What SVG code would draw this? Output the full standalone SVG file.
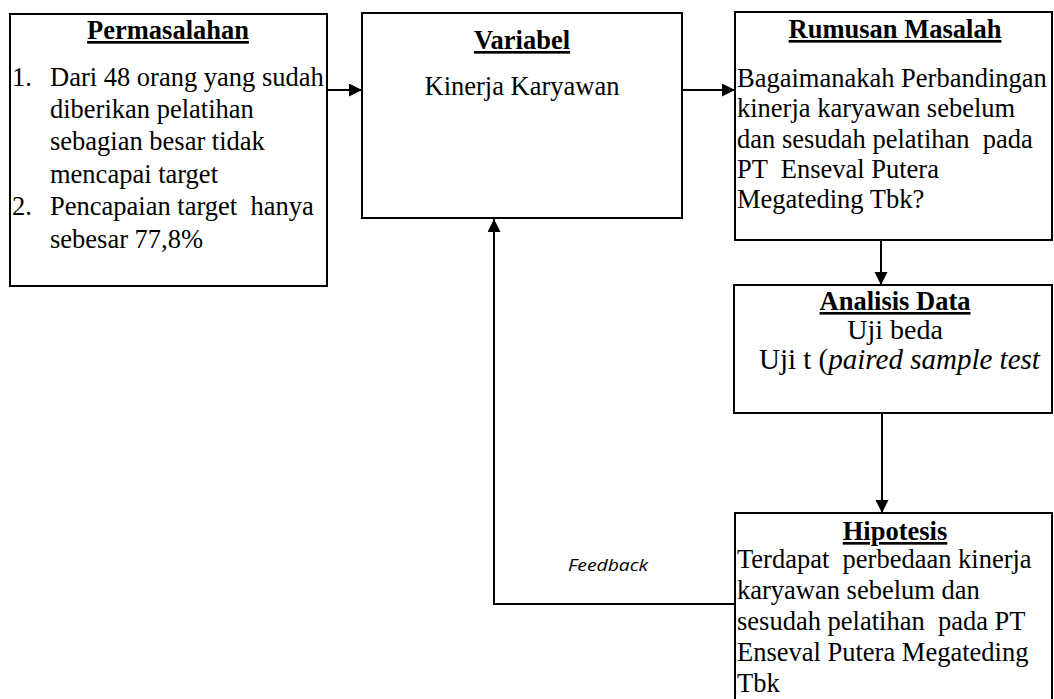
<svg xmlns="http://www.w3.org/2000/svg" width="1054" height="699" viewBox="0 0 1054 699">
<defs>
<marker id="arr" markerUnits="userSpaceOnUse" markerWidth="14" markerHeight="14" refX="13" refY="6.5" orient="auto">
<path d="M0,0 L13,6.5 L0,13 Z" fill="#000"/>
</marker>
<style>
.box{fill:#fff;stroke:#000;stroke-width:2}
.t{font-family:"Liberation Serif","Times New Roman",serif;font-size:26.5px;fill:#000;white-space:pre}
.h{font-weight:bold;text-decoration:underline;text-anchor:middle}
.c{text-anchor:middle}
.con{fill:none;stroke:#000;stroke-width:2}
.fb{font-family:"Open Sans","Liberation Sans",sans-serif;font-style:italic;font-size:17px;fill:#000}
</style>
</defs>
<rect width="1054" height="699" fill="#fff"/>
<g id="connectors">
<line class="con" x1="327" y1="90" x2="362" y2="90" marker-end="url(#arr)"/>
<line class="con" x1="682" y1="90" x2="735" y2="90" marker-end="url(#arr)"/>
<line class="con" x1="881" y1="240" x2="881" y2="285" marker-end="url(#arr)"/>
<line class="con" x1="882" y1="413" x2="882" y2="513" marker-end="url(#arr)"/>
<polyline class="con" points="735,604 494,604 494,219" marker-end="url(#arr)"/>
<text class="fb" x="568" y="571" textLength="80" lengthAdjust="spacingAndGlyphs">Feedback</text>
</g>
<g id="permasalahan">
<rect class="box" x="10" y="14" width="317" height="272"/>
<text class="t h" x="168" y="39">Permasalahan</text>
<text class="t" x="12" y="86">1.</text>
<text class="t" x="50" y="86">Dari 48 orang yang sudah</text>
<text class="t" x="50" y="118">diberikan pelatihan</text>
<text class="t" x="50" y="150">sebagian besar tidak</text>
<text class="t" x="50" y="183">mencapai target</text>
<text class="t" x="12" y="215">2.</text>
<text class="t" x="50" y="215">Pencapaian target  hanya</text>
<text class="t" x="50" y="248">sebesar 77,8%</text>
</g>
<g id="variabel">
<rect class="box" x="362" y="13" width="320" height="205"/>
<text class="t h" x="522" y="49">Variabel</text>
<text class="t c" x="522" y="95">Kinerja Karyawan</text>
</g>
<g id="rumusan">
<rect class="box" x="735" y="12" width="317" height="228"/>
<text class="t h" x="895" y="38">Rumusan Masalah</text>
<text class="t" x="737" y="87">Bagaimanakah Perbandingan</text>
<text class="t" x="737" y="117">kinerja karyawan sebelum</text>
<text class="t" x="737" y="148">dan sesudah pelatihan  pada</text>
<text class="t" x="737" y="178">PT  Enseval Putera</text>
<text class="t" x="737" y="208">Megateding Tbk?</text>
</g>
<g id="analisis">
<rect class="box" x="734" y="285" width="318" height="128"/>
<text class="t h" x="895" y="310">Analisis Data</text>
<text class="t c" x="895" y="339" style="font-size:28px">Uji beda</text>
<text class="t" x="759" y="369" style="font-size:29px">Uji t (<tspan font-style="italic">paired sample test</tspan></text>
</g>
<g id="hipotesis">
<rect class="box" x="735" y="513" width="317" height="200"/>
<text class="t h" x="895" y="540">Hipotesis</text>
<text class="t" x="737" y="568">Terdapat  perbedaan kinerja</text>
<text class="t" x="737" y="599">karyawan sebelum dan</text>
<text class="t" x="737" y="630">sesudah pelatihan  pada PT</text>
<text class="t" x="737" y="661">Enseval Putera Megateding</text>
<text class="t" x="737" y="692">Tbk</text>
</g>
</svg>
